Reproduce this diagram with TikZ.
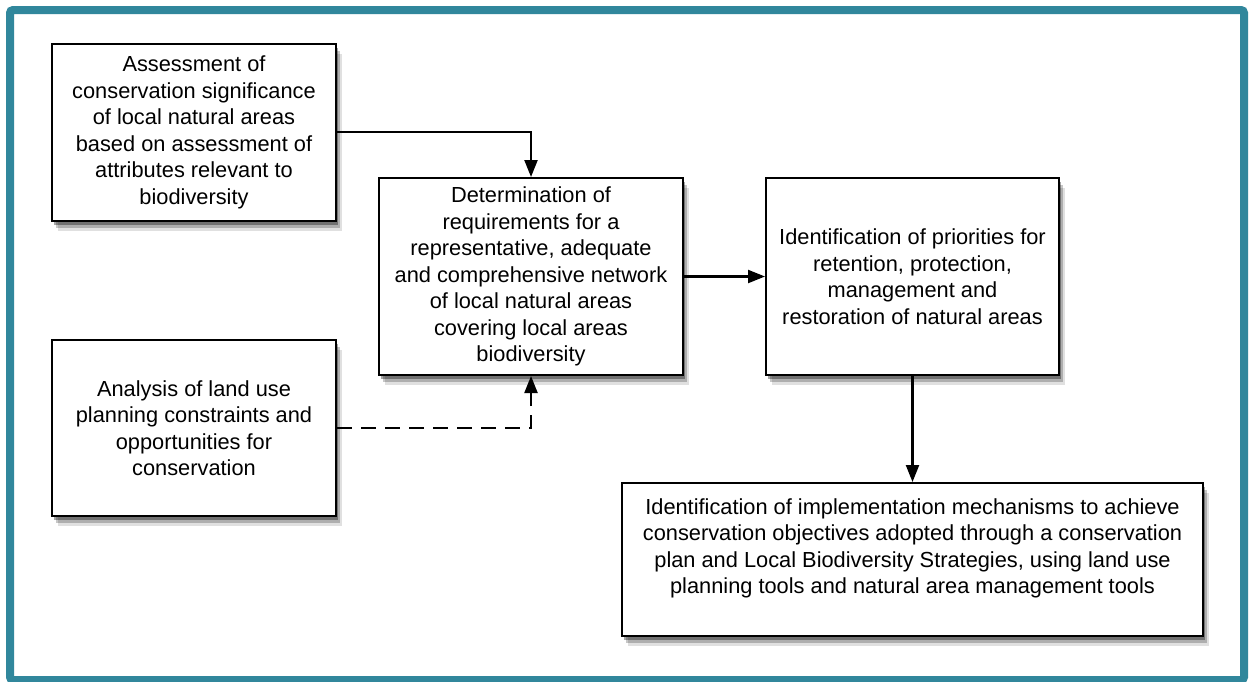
\documentclass[tikz,border=0pt]{standalone}
\usepackage{fontspec}
\setmainfont{Liberation Sans}
\usetikzlibrary{shadows,arrows.meta}
\definecolor{frameteal}{HTML}{31879C}
\begin{document}
\begin{tikzpicture}[x=1pt,y=-1pt,
  txt/.style={font=\fontsize{21.8}{26.5}\selectfont},
  box/.style={draw=black, line width=2pt, fill=white, align=center, txt, inner sep=0pt,
    drop shadow={shadow xshift=6pt, shadow yshift=-10pt, opacity=0.12, fill=black},
    drop shadow={shadow xshift=4pt, shadow yshift=-7pt, opacity=0.22, fill=black},
    drop shadow={shadow xshift=2pt, shadow yshift=-4pt, opacity=0.35, fill=black}},
  conn/.style={line width=2.2pt, -{Triangle[length=17pt,width=13pt]}},
  dconn/.style={conn, dash pattern=on 15pt off 9pt}]
\useasboundingbox (0,0) rectangle (1249,681);
\fill[white] (0,0) rectangle (1249,681);
\draw[frameteal, line width=8pt, rounded corners=3pt] (10,10) rectangle (1244,680);
% boxes
\node[box, minimum width=284pt, minimum height=177pt] (A) at (194,132.5)
  {Assessment of\\conservation significance\\of local natural areas\\based on assessment of\\attributes relevant to\\biodiversity};
\node[box, minimum width=304pt, minimum height=197pt] (B) at (531,276.5)
  {Determination of\\requirements for a\\representative, adequate\\and comprehensive network\\of local natural areas\\covering local areas\\biodiversity};
\node[box, minimum width=293pt, minimum height=197pt] (C) at (912.5,276.5)
  {Identification of priorities for\\retention, protection,\\management and\\restoration of natural areas};
\node[box, minimum width=284pt, minimum height=176pt] (D) at (194,428)
  {Analysis of land use\\planning constraints and\\opportunities for\\conservation};
\node[box, minimum width=581pt, minimum height=153pt, anchor=north] (E) at (912.5,482) {};
\node[align=center, txt, anchor=north] (Et) at (912.5,495)
  {Identification of implementation mechanisms to achieve\\conservation objectives adopted through a conservation\\plan and Local Biodiversity Strategies, using land use\\planning tools and natural area management tools};
% connectors
\draw[conn] (A.east |- 0,132) -| (B.north);
\draw[conn] (B.east) -- (C.west);
\draw[conn] (C.south) -- (E.north);
\draw[dconn] (D.east) -| (B.south);
\end{tikzpicture}
\end{document}
